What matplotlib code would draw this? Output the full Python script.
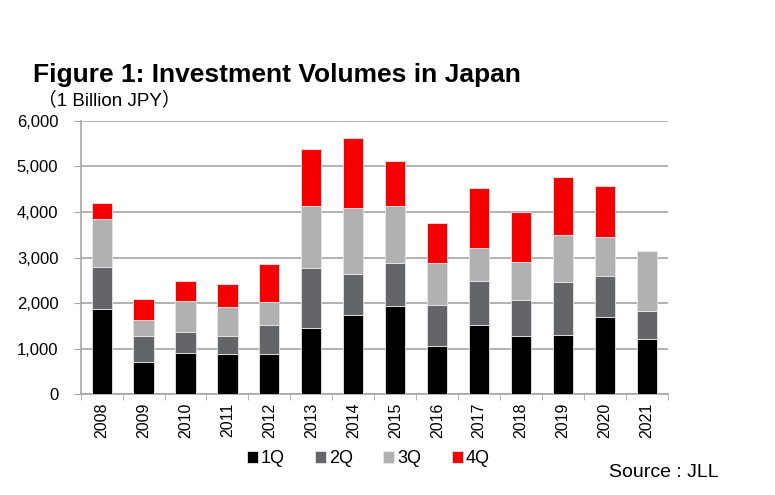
import matplotlib.pyplot as plt
import numpy as np

plt.rcParams['font.family'] = ['Liberation Sans', 'Noto Sans CJK JP', 'DejaVu Sans']

# investment volumes, 1 billion JPY, per quarter
years = ['2008', '2009', '2010', '2011', '2012', '2013', '2014',
         '2015', '2016', '2017', '2018', '2019', '2020', '2021']
q1 = [1880, 715, 905, 890, 890, 1460, 1745, 1940, 1065, 1525, 1285, 1305, 1695, 1210]
q2 = [920, 570, 460, 395, 635, 1315, 895, 940, 905, 955, 775, 1155, 905, 620]
q3 = [1035, 335, 680, 635, 490, 1365, 1455, 1240, 900, 720, 845, 1030, 845, 1310]
q4 = [360, 480, 440, 510, 845, 1250, 1535, 1005, 895, 1335, 1100, 1270, 1115, 0]

series = [q1, q2, q3, q4]
labels = ['1Q', '2Q', '3Q', '4Q']
colores = ['#000000', '#646569', '#b1b1b1', '#f50000']

fig = plt.figure(figsize=(7.75, 4.95), dpi=100)
ax = fig.add_axes([0.104, 0.2034, 0.758, 0.5526])

x = np.arange(len(years))
base = np.zeros(len(years))
for vals, lab, c in zip(series, labels, colores):
    ax.bar(x, vals, bottom=base, width=0.48, color=c, label=lab,
           edgecolor='#e6e6e6', linewidth=0.6, zorder=3)
    base = base + np.array(vals)

ax.set_ylim(0, 6000)
ax.set_xlim(-0.5, len(years) - 0.5)
ax.set_yticks(range(0, 6001, 1000))
ax.set_yticklabels(['{:,}'.format(v) for v in range(0, 6001, 1000)], fontsize=12)
ax.yaxis.grid(True, color='#a6a6a6', linewidth=1.2, zorder=0)

ax.set_xticks(x)
ax.set_xticklabels(years, rotation=90, fontsize=11.5)
ax.tick_params(axis='x', length=0, pad=6)
ax.set_xticks(np.arange(-0.5, len(years)), minor=True)
ax.tick_params(axis='x', which='minor', length=4, color='#a6a6a6')
ax.tick_params(axis='y', length=5, color='#a6a6a6', pad=11)

for s in ['top', 'right']:
    ax.spines[s].set_visible(False)
for s in ['left', 'bottom']:
    ax.spines[s].set_color('#a6a6a6')
    ax.spines[s].set_linewidth(1.2)

fig.text(0.043, 0.848, 'Figure 1: Investment Volumes in Japan', fontsize=19,
         fontweight='bold', va='center')
fig.text(0.049, 0.798, '（1 Billion JPY）', fontsize=13.5, va='center')

fig.legend(loc='center', bbox_to_anchor=(0.475, 0.073), ncol=4, frameon=False,
           fontsize=13, handlelength=0.6, handleheight=0.6, handletextpad=0.15,
           columnspacing=1.7)
fig.text(0.927, 0.045, 'Source : JLL', fontsize=14, ha='right', va='center')

plt.savefig('out.png', dpi=100)
